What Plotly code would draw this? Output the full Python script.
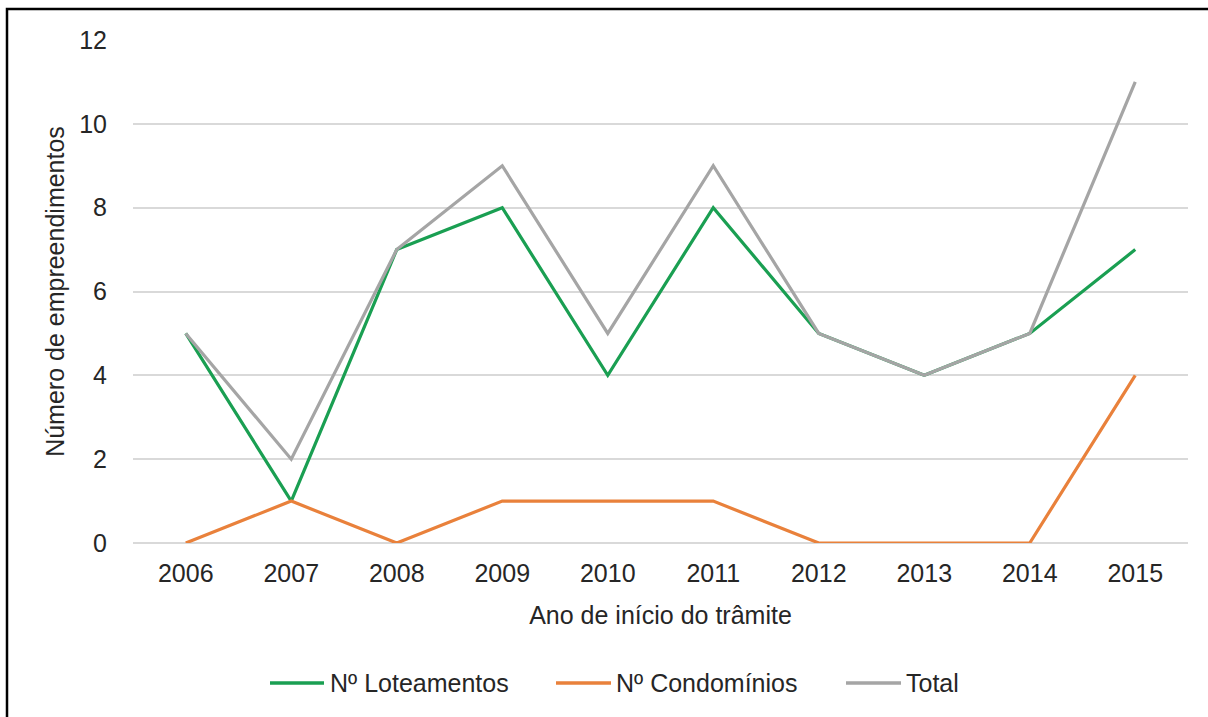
import plotly.graph_objects as go

anos = ["2006", "2007", "2008", "2009", "2010", "2011", "2012", "2013", "2014", "2015"]
loteamentos = [5, 1, 7, 8, 4, 8, 5, 4, 5, 7]
condominios = [0, 1, 0, 1, 1, 1, 0, 0, 0, 4]
total = [5, 2, 7, 9, 5, 9, 5, 4, 5, 11]

series_names = ["Nº Loteamentos", "Nº Condomínios", "Total"]
series_colors = ["#1a9f52", "#e9813b", "#a5a5a5"]

W, H = 1208, 717
L, R, T, B = 133, 20, 40, 174
pw, ph = W - L - R, H - T - B
FS = 25
TXT = "#262626"


def px2paper_x(px):
    return (px - L) / pw


def px2paper_y(py):
    return (H - B - py) / ph


fig = go.Figure()
for name, vals, col in zip(series_names, [loteamentos, condominios, total], series_colors):
    fig.add_trace(go.Scatter(x=anos, y=vals, mode="lines", name=name,
                             line=dict(color=col, width=3.2), showlegend=False))

# outer frame
fig.add_shape(type="rect", xref="paper", yref="paper",
              x0=px2paper_x(7), x1=px2paper_x(1230), y0=px2paper_y(740), y1=px2paper_y(9),
              line=dict(color="black", width=2.5), fillcolor="rgba(0,0,0,0)", layer="above")

# legend (drawn manually to match long line symbols)
leg_y = px2paper_y(683)
leg_items = [(270, 324, 328), (556, 611, 614), (846, 901, 904)]
for (lx0, lx1, tx), name, col in zip(leg_items, series_names, series_colors):
    fig.add_shape(type="line", xref="paper", yref="paper",
                  x0=px2paper_x(lx0), x1=px2paper_x(lx1), y0=leg_y, y1=leg_y,
                  line=dict(color=col, width=3.5))
    fig.add_annotation(xref="paper", yref="paper", x=px2paper_x(tx), y=leg_y,
                       xanchor="left", yanchor="middle", text=name, showarrow=False,
                       font=dict(family="Liberation Sans, Arial, sans-serif", size=FS, color=TXT))

fig.update_layout(
    width=W, height=H,
    margin=dict(l=L, r=R, t=T, b=B),
    paper_bgcolor="white", plot_bgcolor="white",
    font=dict(family="Liberation Sans, Arial, sans-serif", size=FS, color=TXT),
    showlegend=False,
    xaxis=dict(type="category", range=[-0.5, 9.5], showgrid=False, showline=False, zeroline=False,
               ticks="", ticklabelstandoff=13,
               title=dict(text="Ano de início do trâmite", standoff=20, font=dict(size=FS))),
    yaxis=dict(range=[0, 12], dtick=2, showgrid=True, gridcolor="#d9d9d9", gridwidth=1.5,
               zeroline=True, zerolinecolor="#d9d9d9", zerolinewidth=1.5, showline=False,
               ticks="", ticklabelstandoff=25,
               title=dict(text="Número de empreendimentos", standoff=7, font=dict(size=FS))),
)

fig.write_html("out.html")
